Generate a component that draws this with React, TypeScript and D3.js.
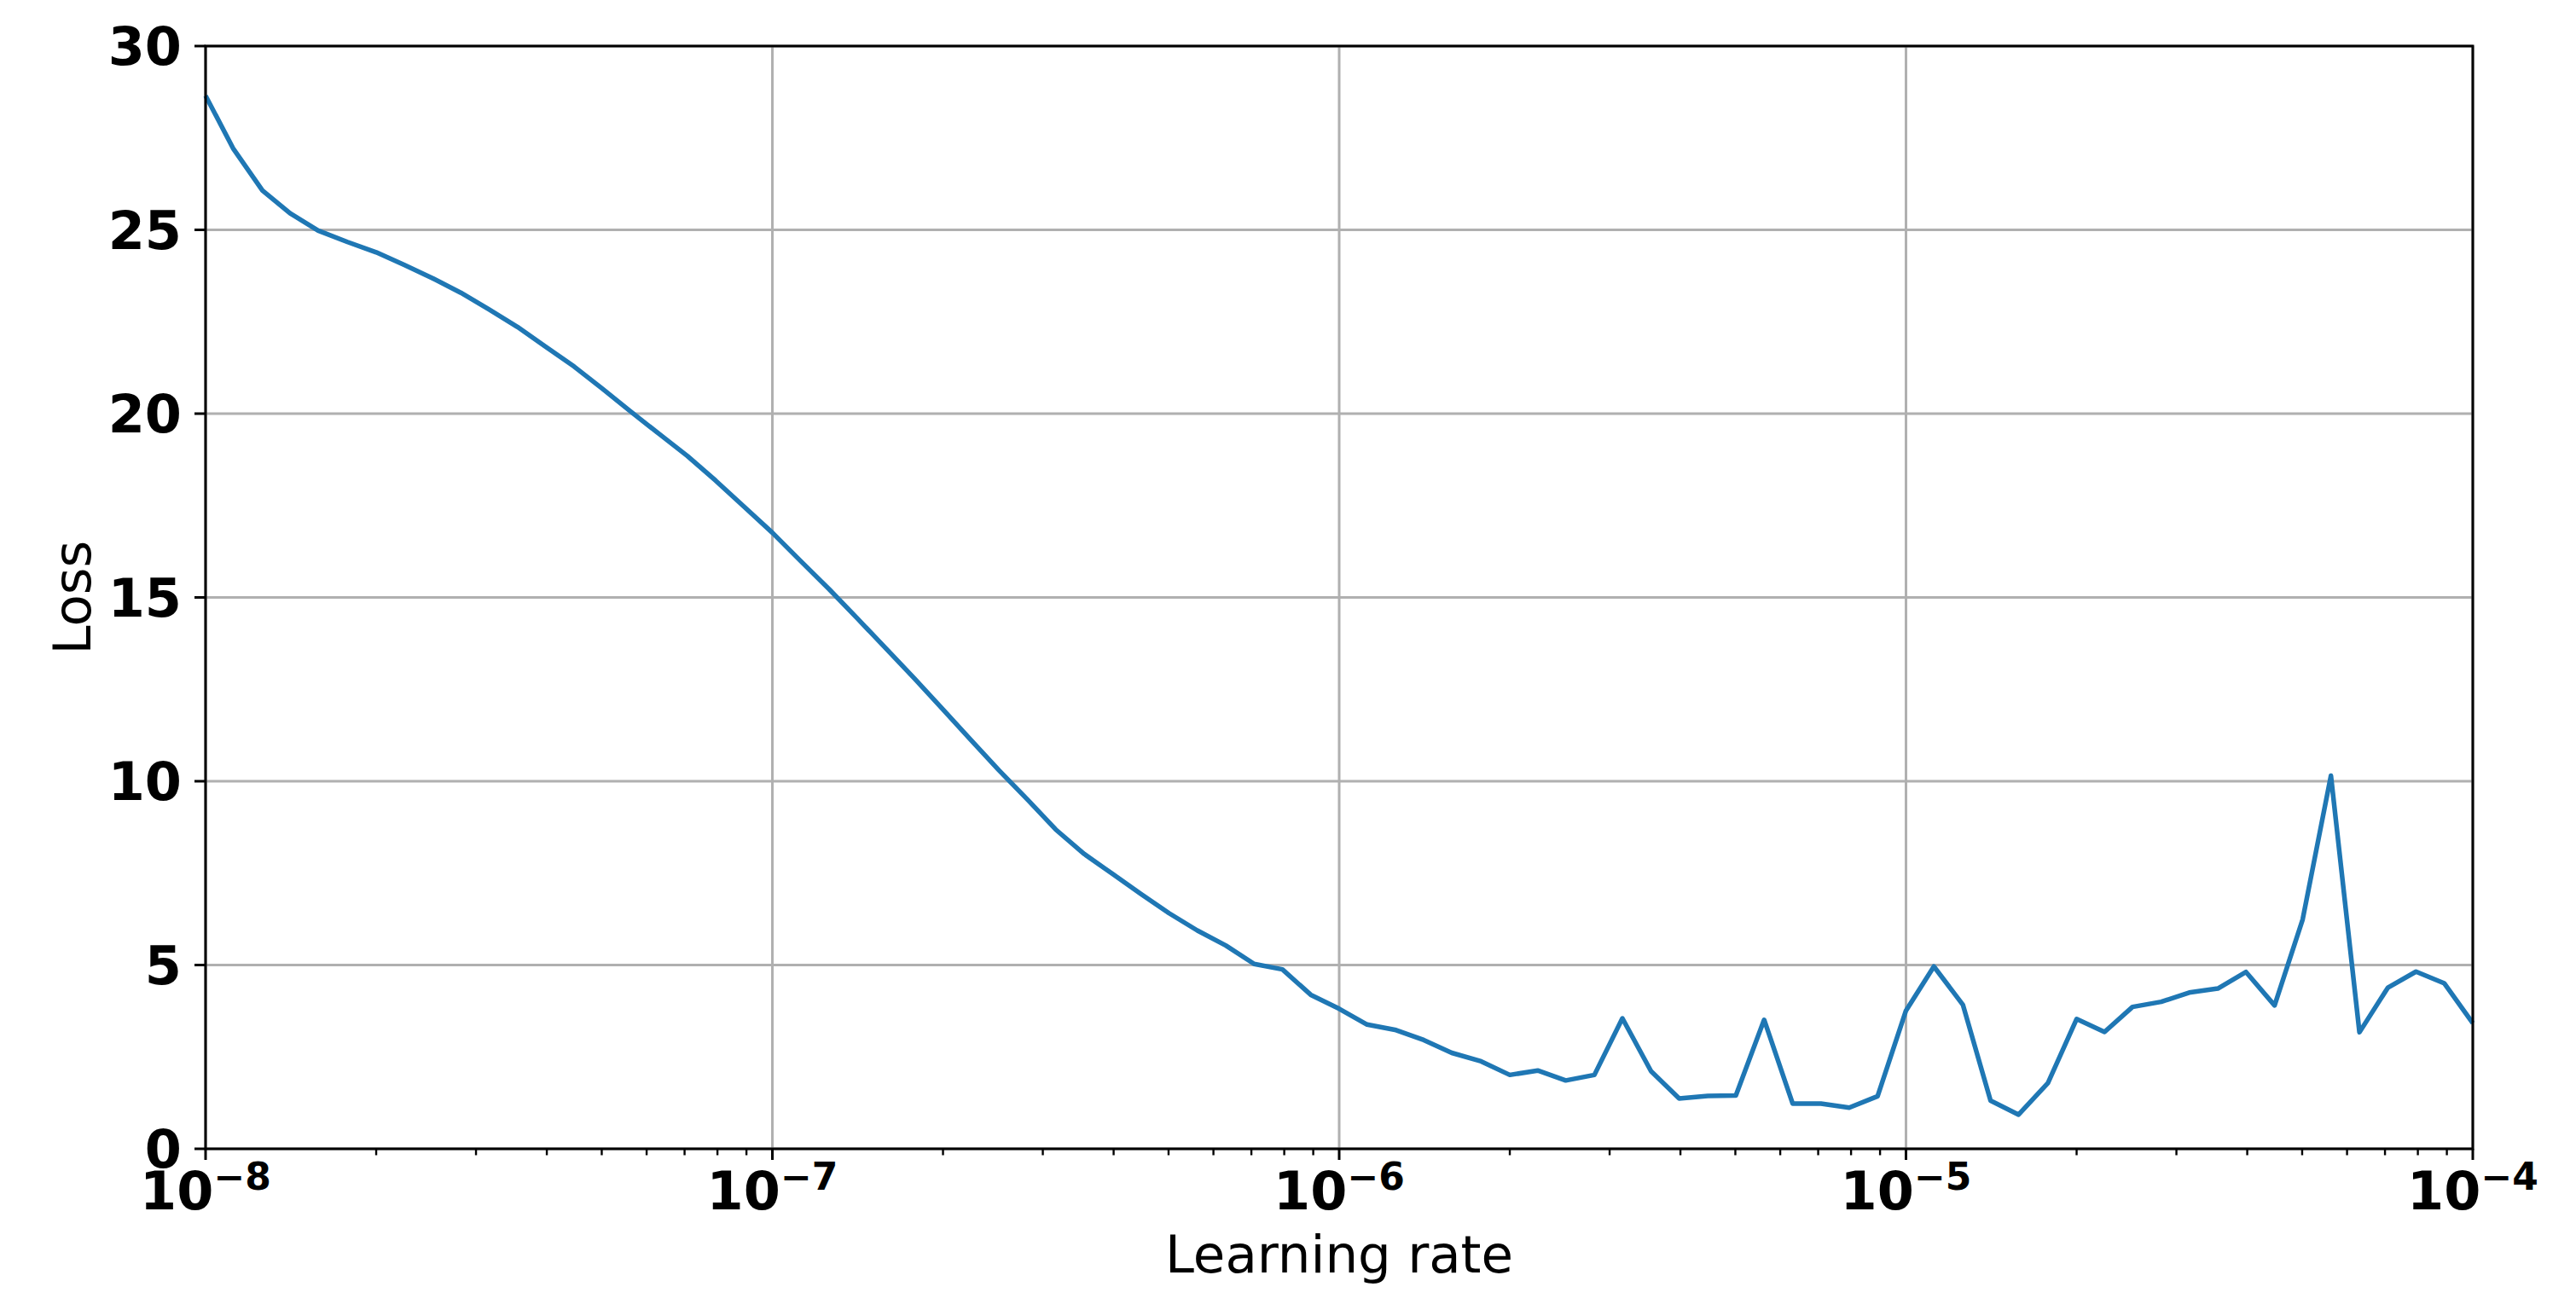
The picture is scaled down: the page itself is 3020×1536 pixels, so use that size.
import React from 'react';
import * as d3 from 'd3';

// learning rate sweep (20 steps per decade)
const learningRates = [
  1.00e-8, 1.12e-8, 1.26e-8, 1.41e-8, 1.58e-8, 1.78e-8, 2.00e-8, 2.24e-8, 2.51e-8, 2.82e-8,
  3.16e-8, 3.55e-8, 3.98e-8, 4.47e-8, 5.01e-8, 5.62e-8, 6.31e-8, 7.08e-8, 7.94e-8, 8.91e-8,
  1.00e-7, 1.12e-7, 1.26e-7, 1.41e-7, 1.58e-7, 1.78e-7, 2.00e-7, 2.24e-7, 2.51e-7, 2.82e-7,
  3.16e-7, 3.55e-7, 3.98e-7, 4.47e-7, 5.01e-7, 5.62e-7, 6.31e-7, 7.08e-7, 7.94e-7, 8.91e-7,
  1.00e-6, 1.12e-6, 1.26e-6, 1.41e-6, 1.58e-6, 1.78e-6, 2.00e-6, 2.24e-6, 2.51e-6, 2.82e-6,
  3.16e-6, 3.55e-6, 3.98e-6, 4.47e-6, 5.01e-6, 5.62e-6, 6.31e-6, 7.08e-6, 7.94e-6, 8.91e-6,
  1.00e-5, 1.12e-5, 1.26e-5, 1.41e-5, 1.58e-5, 1.78e-5, 2.00e-5, 2.24e-5, 2.51e-5, 2.82e-5,
  3.16e-5, 3.55e-5, 3.98e-5, 4.47e-5, 5.01e-5, 5.62e-5, 6.31e-5, 7.08e-5, 7.94e-5, 8.91e-5,
  1.00e-4,
];

const losses = [
  28.65, 27.2, 26.07, 25.45, 24.98, 24.67, 24.39, 24.05, 23.69, 23.29,
  22.84, 22.36, 21.82, 21.28, 20.68, 20.06, 19.45, 18.85, 18.18, 17.47,
  16.76, 16.0, 15.22, 14.44, 13.64, 12.8, 11.95, 11.12, 10.3, 9.5,
  8.69, 8.02, 7.48, 6.93, 6.41, 5.94, 5.53, 5.03, 4.88, 4.19,
  3.81, 3.38, 3.23, 2.96, 2.61, 2.38, 2.01, 2.13, 1.86, 2.01,
  3.55, 2.11, 1.37, 1.44, 1.45, 3.51, 1.23, 1.23, 1.12, 1.43,
  3.76, 4.96, 3.92, 1.31, 0.93, 1.79, 3.53, 3.18, 3.86, 4.0,
  4.25, 4.36, 4.81, 3.9, 6.24, 10.15, 3.17, 4.38, 4.82, 4.5,
  3.42,
];

const yTicks = [0, 5, 10, 15, 20, 25, 30];
const xTicks = [1e-8, 1e-7, 1e-6, 1e-5, 1e-4];
const xTickExponents = ['\u22128', '\u22127', '\u22126', '\u22125', '\u22124'];

const W = 3020;
const H = 1536;
const margin = { top: 54, right: 121, bottom: 189, left: 241 };
const font = '"DejaVu Sans", sans-serif';

export default function App() {
  const x = d3.scaleLog().domain([1e-8, 1e-4]).range([margin.left, W - margin.right]);
  const y = d3.scaleLinear().domain([0, 30]).range([H - margin.bottom, margin.top]);

  const [x0, x1] = x.range();
  const [yb, yt] = y.range();

  // minor ticks at 2..9 x 10^n
  const minorTicks = x.ticks().filter(t => !xTicks.some(m => Math.abs(m - t) / m < 1e-6));

  const line = d3.line<number>()
    .x((_, i) => x(learningRates[i]))
    .y(d => y(d));

  return (
    <svg
      width={W}
      height={H}
      style={{ position: 'absolute', left: 0, top: 0, background: 'white' }}
      fontFamily={font}
    >
      {/* grid */}
      <g stroke="#b0b0b0" strokeWidth={3}>
        {yTicks.map(t => (
          <line key={'gy' + t} x1={x0} x2={x1} y1={y(t)} y2={y(t)} />
        ))}
        {xTicks.map(t => (
          <line key={'gx' + t} x1={x(t)} x2={x(t)} y1={yt} y2={yb} />
        ))}
      </g>

      {/* loss curve */}
      <path
        d={line(losses) || ''}
        fill="none"
        stroke="#1f77b4"
        strokeWidth={5.5}
        strokeLinejoin="round"
      />

      {/* spines */}
      <rect x={x0} y={yt} width={x1 - x0} height={yb - yt} fill="none" stroke="black" strokeWidth={3} />

      {/* y axis ticks */}
      <g>
        {yTicks.map(t => (
          <g key={'ty' + t}>
            <line x1={x0 - 13} x2={x0} y1={y(t)} y2={y(t)} stroke="black" strokeWidth={3} />
            <text
              x={x0 - 28}
              y={y(t)}
              dy="0.36em"
              textAnchor="end"
              fontSize={62}
              fontWeight="bold"
            >
              {t}
            </text>
          </g>
        ))}
      </g>

      {/* x axis ticks */}
      <g>
        {xTicks.map((t, i) => (
          <g key={'tx' + t}>
            <line x1={x(t)} x2={x(t)} y1={yb} y2={yb + 13} stroke="black" strokeWidth={3} />
            <text x={x(t)} y={yb + 71} textAnchor="middle" fontSize={62} fontWeight="bold">
              <tspan>10</tspan>
              <tspan fontSize={44} dy={-23}>{xTickExponents[i]}</tspan>
            </text>
          </g>
        ))}
        {minorTicks.map(t => (
          <line key={'mx' + t} x1={x(t)} x2={x(t)} y1={yb} y2={yb + 7.5} stroke="black" strokeWidth={2.4} />
        ))}
      </g>

      {/* axis labels */}
      <text x={(x0 + x1) / 2} y={1492} textAnchor="middle" fontSize={61}>
        Learning rate
      </text>
      <text transform={`translate(106,${(yt + yb) / 2}) rotate(-90)`} textAnchor="middle" fontSize={61}>
        Loss
      </text>
    </svg>
  );
}
